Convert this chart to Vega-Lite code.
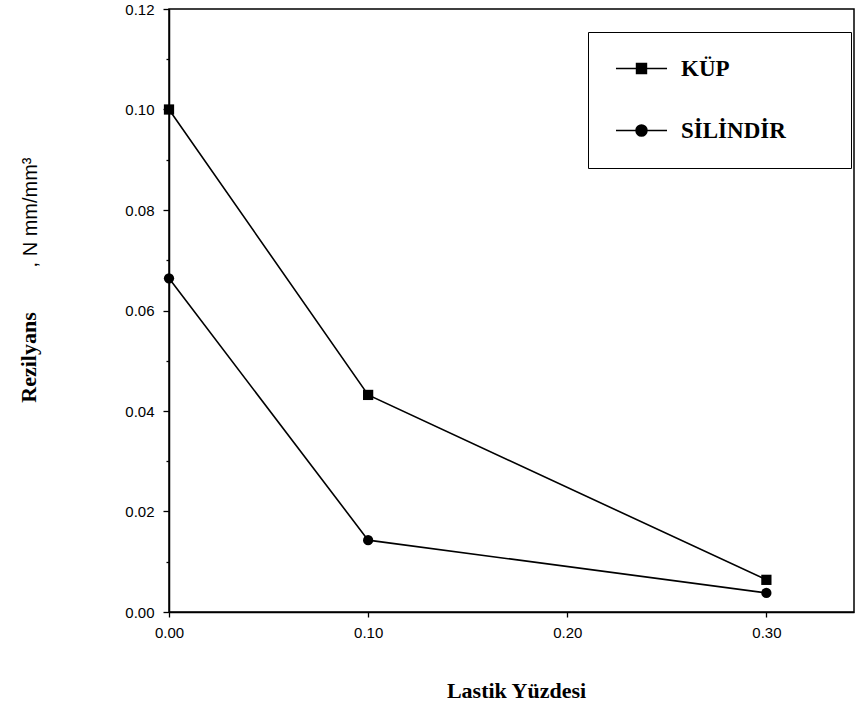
{
  "$schema": "https://vega.github.io/schema/vega-lite/v6.json",
  "width": 685,
  "height": 603,
  "autosize": "none",
  "padding": {"left": 169, "top": 9, "right": 1, "bottom": 95},
  "background": "white",
  "config": {
    "view": {"stroke": "black", "strokeWidth": 1.5},
    "axis": {"labelColor": "black", "tickColor": "black", "domainColor": "black", "domainWidth": 1.5, "tickWidth": 1.3, "titleColor": "black", "grid": false}
  },
  "data": {
    "values": [
      {"seri": "KÜP", "lastik": 0.0, "rezilyans": 0.1},
      {"seri": "KÜP", "lastik": 0.1, "rezilyans": 0.0432},
      {"seri": "KÜP", "lastik": 0.3, "rezilyans": 0.0064},
      {"seri": "SİLİNDİR", "lastik": 0.0, "rezilyans": 0.0664},
      {"seri": "SİLİNDİR", "lastik": 0.1, "rezilyans": 0.0143},
      {"seri": "SİLİNDİR", "lastik": 0.3, "rezilyans": 0.0038}
    ]
  },
  "encoding": {
    "x": {
      "field": "lastik",
      "type": "quantitative",
      "scale": {"domain": [0, 0.344], "nice": false, "zero": false},
      "axis": {
        "values": [0, 0.1, 0.2, 0.3],
        "format": ".2f",
        "labelFont": "Liberation Sans",
        "labelFontSize": 15,
        "labelFlush": false,
        "tickSize": 5,
        "labelPadding": 8,
        "title": "Lastik Yüzdesi",
        "titleFont": "Liberation Serif",
        "titleFontSize": 22,
        "titleFontWeight": "bold",
        "titleX": 347,
        "titleY": 85,
        "titleAlign": "center",
        "titleBaseline": "alphabetic"
      }
    }
  },
  "layer": [
    {
      "mark": {"type": "line", "strokeWidth": 1.6},
      "encoding": {
        "y": {
          "field": "rezilyans",
          "type": "quantitative",
          "scale": {"domain": [0, 0.12], "nice": false, "zero": true},
          "axis": {
            "orient": "left",
            "values": [0, 0.02, 0.04, 0.06, 0.08, 0.1, 0.12],
            "format": ".2f",
            "labelFont": "Liberation Sans",
            "labelFontSize": 15,
            "labelFlush": false,
            "tickSize": 6,
            "labelPadding": 9,
            "title": "Rezilyans",
            "titleFont": "Liberation Serif",
            "titleFontSize": 22,
            "titleFontWeight": "bold",
            "titleAngle": 270,
            "titleX": -134,
            "titleY": 348,
            "titleAlign": "center",
            "titleBaseline": "alphabetic"
          }
        },
        "color": {
          "field": "seri",
          "type": "nominal",
          "scale": {"domain": ["KÜP", "SİLİNDİR"], "range": ["black", "black"]},
          "legend": {
            "title": null,
            "orient": "none",
            "legendX": 419,
            "legendY": 23,
            "padding": 25,
            "strokeColor": "black",
            "fillColor": "white",
            "symbolSize": 256,
            "symbolOffset": 17,
            "labelOffset": 28,
            "rowPadding": 38,
            "labelFont": "Liberation Serif",
            "labelFontSize": 23,
            "labelFontWeight": "bold",
            "labelColor": "black",
            "symbolFillColor": "black",
            "symbolStrokeColor": "black",
            "symbolStrokeWidth": 1.5,
            "symbolType": {"expr": "datum.value == 'KÜP' ? 'M-3.19,0H3.19M-0.62,-0.62H0.62V0.62H-0.62ZM22.6,0' : 'M-3.19,0H3.19M0.69,0A0.69,0.69,0,1,1,-0.69,0A0.69,0.69,0,1,1,0.69,0ZM22.6,0'"}
          }
        }
      }
    },
    {
      "mark": {"type": "point", "filled": true, "color": "black", "opacity": 1, "size": 105, "shape": {"expr": "datum.seri == 'KÜP' ? 'square' : 'circle'"}},
      "encoding": {
        "y": {
          "field": "rezilyans",
          "type": "quantitative",
          "scale": {"domain": [0, 0.12], "nice": false, "zero": true},
          "axis": {
            "orient": "left",
            "values": [0.01, 0.03, 0.05, 0.07, 0.09, 0.11],
            "labels": false,
            "domain": false,
            "tickSize": 3,
            "title": ",  N mm/mm³",
            "titleFont": "Liberation Sans",
            "titleFontSize": 20,
            "titleFontWeight": "normal",
            "titleAngle": 270,
            "titleX": -133,
            "titleY": 203,
            "titleAlign": "center",
            "titleBaseline": "alphabetic"
          }
        }
      }
    }
  ],
  "resolve": {"axis": {"y": "independent"}}
}
